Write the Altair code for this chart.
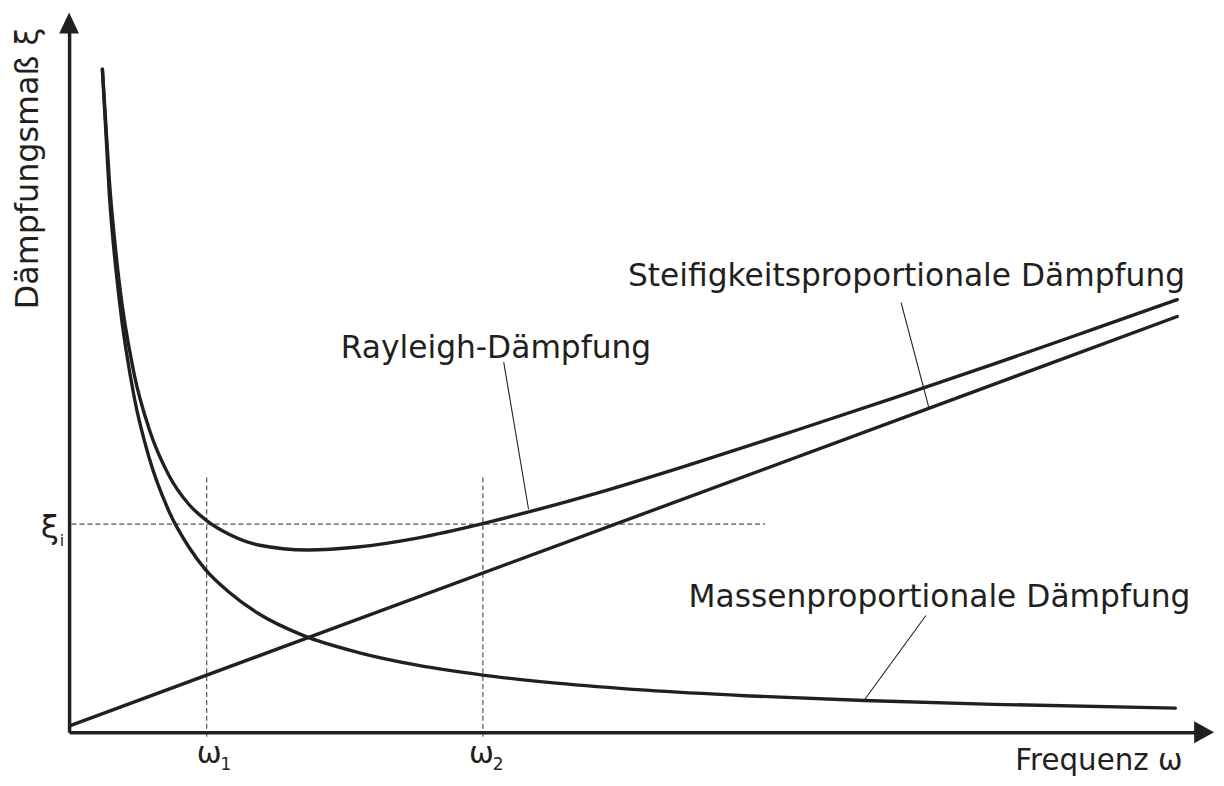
import altair as alt
import pandas as pd

# ---- data (x: frequency units, y: damping units) ----
mass_x = [3.3, 4.0, 5.0, 6.5, 8.0, 10.0, 12.0, 13.7, 16.0, 19.0, 23.5, 29.0, 35.0, 41.6, 49.0, 58.0, 68.0, 80.0, 93.0, 111.3]
mass_y = [66.8, 54.2, 43.6, 33.8, 27.7, 22.3, 18.7, 16.4, 14.2, 12.0, 9.8, 8.1, 6.8, 5.8, 5.0, 4.29, 3.73, 3.25, 2.86, 2.48]

ray_x = [3.3, 4.0, 5.0, 6.5, 8.0, 10.0, 12.0, 13.8, 16.0, 19.0, 24.0, 29.0, 35.0, 41.6, 46.3, 53.0, 63.0, 73.0, 83.0, 93.0, 103.0, 111.5]
ray_y = [66.8, 55.6, 45.3, 36.1, 30.6, 25.9, 23.0, 21.35, 20.0, 18.9, 18.4, 18.7, 19.6, 21.05, 22.25, 24.1, 27.17, 30.4, 33.7, 37.1, 40.6, 43.6]

stiff_x = [0.0, 111.5]
stiff_y = [0.7, 41.9]

omega1 = 13.8
omega2 = 41.6
xi_i = 21.0

labels = ["Rayleigh-Dämpfung", "Steifigkeitsproportionale Dämpfung", "Massenproportionale Dämpfung", "Frequenz ω"]
label_x = [27.3, 56.2, 62.3, 95.2]
label_y = [37.75, 45.0, 12.7, -3.75]
label_fs = [31.5, 31.5, 31.5, 29.5]

lead_x = [43.7, 83.7, 86.2]
lead_y = [37.3, 43.3, 11.8]
lead_x2 = [46.2, 86.5, 80.0]
lead_y2 = [22.5, 32.7, 3.3]

FONT = "DejaVu Sans"
INK = "#231f20"

xs = alt.Scale(domain=[0, 115], nice=False, zero=False)
ys = alt.Scale(domain=[0, 72], nice=False, zero=False)

curves = pd.DataFrame(
    [{"s": "mass", "x": a, "y": b} for a, b in zip(mass_x, mass_y)]
    + [{"s": "rayleigh", "x": a, "y": b} for a, b in zip(ray_x, ray_y)]
    + [{"s": "stiff", "x": a, "y": b} for a, b in zip(stiff_x, stiff_y)]
)

curve_layer = alt.Chart(curves).mark_line(
    color=INK, strokeWidth=3.4, interpolate="monotone", strokeCap="round"
).encode(
    x=alt.X("x:Q", scale=xs, axis=None),
    y=alt.Y("y:Q", scale=ys, axis=None),
    detail="s:N",
)

# axes
axes_df = pd.DataFrame({"x": [0.0, 0.0], "y": [0.0, 0.0], "x2": [0.0, 113.5], "y2": [70.5, 0.0]})
axes_layer = alt.Chart(axes_df).mark_rule(color=INK, strokeWidth=3.5).encode(
    x=alt.X("x:Q", scale=xs, axis=None), y=alt.Y("y:Q", scale=ys, axis=None), x2="x2:Q", y2="y2:Q"
)
arrow_up = alt.Chart(pd.DataFrame({"x": [-0.05], "y": [71.45]})).mark_point(
    shape="M0,-1L0.95,1L-0.95,1Z", size=441, filled=True, color=INK, opacity=1, strokeWidth=0
).encode(x=alt.X("x:Q", scale=xs, axis=None), y=alt.Y("y:Q", scale=ys, axis=None))
arrow_right = alt.Chart(pd.DataFrame({"x": [114.2], "y": [0.05]})).mark_point(
    shape="M0.91,0L-0.91,-1L-0.91,1Z", size=484, filled=True, color=INK, opacity=1, strokeWidth=0
).encode(x=alt.X("x:Q", scale=xs, axis=None), y=alt.Y("y:Q", scale=ys, axis=None))

# dashed guides
dash_df = pd.DataFrame({
    "x": [0.2, omega1, omega2],
    "x2": [70.0, omega1, omega2],
    "y": [xi_i, 25.7, 25.7],
    "y2": [xi_i, -0.7, -0.7],
})
dash_layer = alt.Chart(dash_df).mark_rule(color="#555555", strokeWidth=1.2, strokeDash=[5, 3]).encode(
    x=alt.X("x:Q", scale=xs, axis=None), y=alt.Y("y:Q", scale=ys, axis=None), x2="x2:Q", y2="y2:Q"
)

# leader lines
lead_df = pd.DataFrame({"x": lead_x, "y": lead_y, "x2": lead_x2, "y2": lead_y2})
lead_layer = alt.Chart(lead_df).mark_rule(color=INK, strokeWidth=1.1).encode(
    x=alt.X("x:Q", scale=xs, axis=None), y=alt.Y("y:Q", scale=ys, axis=None), x2="x2:Q", y2="y2:Q"
)

# text labels
txt_df = pd.DataFrame({
    "t": labels + ["ω", "1", "ω", "2", "ξ", "i"],
    "x": label_x + [12.8, 15.2, 40.2, 42.6, -2.9, -1.0],
    "y": label_y + [-3.0, -3.7, -3.0, -3.7, 19.6, 18.8],
    "fs": label_fs + [30, 17, 30, 17, 33, 16],
})
txt_layer = alt.Chart(txt_df).mark_text(align="left", baseline="alphabetic", font=FONT, color=INK).encode(
    x=alt.X("x:Q", scale=xs, axis=None),
    y=alt.Y("y:Q", scale=ys, axis=None),
    text="t:N",
    size=alt.Size("fs:Q", scale=None, legend=None),
)

ytitle = alt.Chart(pd.DataFrame({"x": [-3.2], "y": [56.8], "t": ["Dämpfungsmaß ξ"]})).mark_text(
    align="center", baseline="alphabetic", angle=270, font=FONT, fontSize=32, color=INK
).encode(x=alt.X("x:Q", scale=xs, axis=None), y=alt.Y("y:Q", scale=ys, axis=None), text="t:N")

chart = alt.layer(
    dash_layer, curve_layer, lead_layer, axes_layer, arrow_up, arrow_right, txt_layer, ytitle
).properties(
    width=1150,
    height=720,
    padding={"left": 62, "top": 7, "right": 4, "bottom": 43},
    autosize=alt.AutoSizeParams(type="none"),
    background="white",
).configure_view(strokeWidth=0)

chart.save("out.html", embed_options={"renderer": "svg", "actions": False})
